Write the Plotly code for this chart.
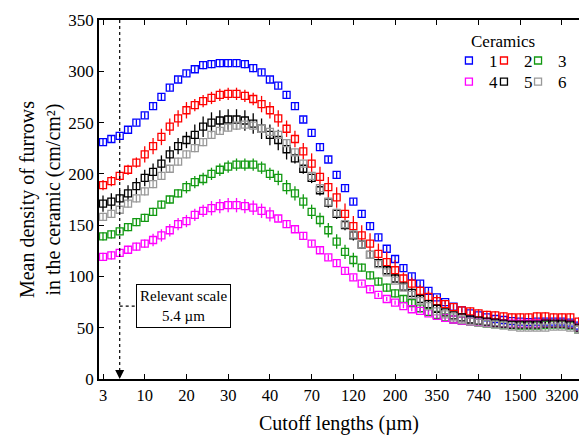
"""
Mean furrow density in six ceramics as a function of the cutoff length,
with the relevant scale (5.4 um) marked.
"""

import plotly.graph_objects as go

# cutoff lengths are plotted on an index scale, labelled every 5th point
n_cutoffs = 58
tick_index = [0, 5, 10, 15, 20, 25, 30, 35, 40, 45, 50, 55]
tick_labels = ["3", "10", "20", "30", "40", "70", "120", "200", "350", "740", "1500", "3200"]
relevant_index = 2  # 5.4 um

ceramic_names = ["1", "2", "3", "4", "5", "6"]
ceramic_colors = ["#0000ff", "#ff0000", "#119911", "#ff00ff", "#000000", "#999999"]

density_1 = [231, 234, 237, 243, 250, 257, 266, 275, 284, 292,
             298, 302, 306, 307, 308, 308, 308, 307, 303, 299,
             292, 286, 277, 266, 253, 240, 226, 214, 199, 186,
             173, 161, 149, 138, 127, 117, 108, 100, 93, 86,
             79.5, 75, 70.5, 67, 64, 62, 60, 58.5, 57.5, 56.5,
             56, 55.5, 56, 56, 56, 56, 55, 52]
density_2 = [189, 193, 198, 204, 211, 219, 227, 236, 246, 254,
             262, 267, 271, 274, 277, 278, 278, 276, 273, 268,
             262, 254, 244, 234, 222, 210, 197, 187, 177, 161,
             149, 140, 132, 122, 114, 106, 98, 93, 86, 80,
             76, 73, 70, 67, 66, 64, 62.5, 62, 61, 60,
             60, 60, 61, 61, 60, 60, 60, 56]
density_3 = [139, 141, 144, 148, 153, 157, 163, 170, 175, 181,
             187, 192, 195, 200, 204, 207, 209, 209, 209, 206,
             200, 196, 187, 181, 173, 163, 155, 145, 134, 124,
             116, 108.5, 101, 95, 89, 83.5, 78, 74, 69, 65.5,
             62.5, 60, 58, 57, 56, 55, 54, 53.5, 53, 52.5,
             52, 52, 52, 52.5, 53, 53, 52, 48]
density_4 = [119, 120.5, 123, 126, 129, 132, 135.5, 140, 145, 151,
             154, 160, 164, 166.5, 168.5, 169.5, 169.5, 168.5, 167, 164,
             160.5, 156.5, 151, 146, 139.5, 132, 125.5, 118.5, 113, 105.5,
             99, 93, 87.5, 82, 78, 74.5, 71, 68, 66.5, 64,
             61.5, 59.5, 58, 57, 56, 55.5, 55, 54.5, 54, 54,
             54, 54, 54, 54, 54, 54, 53, 50]
density_5 = [171, 173, 176, 181, 188, 196, 202, 210, 219, 227,
             233, 238, 246, 250, 252, 253, 253, 252, 249, 244,
             238, 233, 224, 215, 205, 196, 184, 172, 161, 150,
             140, 131, 121, 113, 106, 98, 90, 84, 78, 73,
             68.5, 65, 62, 60, 58, 57, 56, 55, 54, 53,
             53, 53, 53, 54, 54, 54, 53, 50]
density_6 = [158, 161, 165, 171, 176, 183, 190, 198, 205, 212,
             219, 225, 231, 238, 242, 245, 247, 248, 247, 244,
             241, 238, 230, 221, 210, 198, 186, 173, 162, 151,
             141, 131, 121, 112, 104, 96, 89, 82, 76, 71,
             66, 63, 60, 58, 56, 55, 54, 53, 52, 51,
             50, 50, 50, 50, 51, 51, 50, 48]

error_1 = [3, 3, 3, 3, 3, 3, 3, 3, 3, 3,
           3, 3, 4, 4, 4, 4, 4, 4, 4, 3,
           3, 3, 3, 3, 3, 3, 3, 3, 3, 3,
           3, 3, 3, 3, 3, 3, 3, 3, 3, 3,
           2, 2, 2, 2, 2, 2, 2, 2, 2, 2,
           2, 2, 2, 2, 2, 2, 2, 2]
error_2 = [5, 5, 5, 5, 5, 8, 8, 8, 8, 8,
           8, 6, 6, 6, 6, 6, 6, 6, 6, 8,
           8, 8, 8, 8, 8, 10, 10, 10, 10, 10,
           10, 10, 10, 10, 10, 10, 6, 6, 6, 6,
           6, 4, 4, 4, 4, 4, 4, 4, 4, 4,
           4, 4, 4, 4, 4, 4, 4, 4]
error_3 = [4, 4, 4, 4, 4, 4, 4, 4, 4, 4,
           6, 6, 6, 6, 6, 6, 6, 6, 6, 6,
           6, 7, 7, 7, 7, 7, 7, 7, 7, 7,
           7, 4, 4, 4, 4, 4, 4, 4, 4, 4,
           4, 2, 2, 2, 2, 2, 2, 2, 2, 2,
           2, 2, 2, 2, 2, 2, 2, 2]
error_4 = [4, 4, 4, 4, 4, 4, 6, 6, 6, 6,
           6, 6, 6, 7, 7, 7, 7, 7, 7, 7,
           7, 3, 3, 3, 3, 3, 3, 3, 3, 3,
           3, 2, 2, 2, 2, 2, 2, 2, 2, 2,
           2, 2, 2, 2, 2, 2, 2, 2, 2, 2,
           2, 2, 2, 2, 2, 2, 2, 2]
error_5 = [8, 8, 8, 8, 8, 8, 8, 8, 8, 8,
           8, 10, 10, 10, 10, 10, 10, 10, 10, 10,
           10, 10, 10, 5, 5, 5, 5, 5, 5, 5,
           5, 4, 4, 4, 4, 4, 4, 4, 4, 4,
           4, 2, 2, 2, 2, 2, 2, 2, 2, 2,
           2, 2, 2, 2, 2, 2, 2, 2]
error_6 = [4, 4, 4, 4, 4, 4, 4, 4, 4, 4,
           4, 4, 4, 4, 4, 4, 4, 4, 4, 4,
           4, 4, 4, 4, 4, 4, 4, 4, 4, 4,
           4, 3, 3, 3, 3, 3, 3, 3, 3, 3,
           3, 3, 3, 3, 3, 3, 3, 3, 3, 3,
           3, 3, 3, 3, 3, 3, 3, 3]

densities = [density_1, density_2, density_3, density_4, density_5, density_6]
errors = [error_1, error_2, error_3, error_4, error_5, error_6]

FONT = "Liberation Serif"

# one small legend per ceramic so the keys sit in a 3 x 2 grid
legend_ids = ["legend", "legend2", "legend3", "legend4", "legend5", "legend6"]
legend_x = [0.729, 0.802, 0.873, 0.729, 0.802, 0.873]
legend_y = [0.886, 0.886, 0.886, 0.827, 0.827, 0.827]

fig = go.Figure()
cutoff_index = list(range(n_cutoffs))
for i, name in enumerate(ceramic_names):
    color = ceramic_colors[i]
    fig.add_trace(go.Scatter(
        x=cutoff_index,
        y=densities[i],
        mode="markers",
        name=name,
        legend=legend_ids[i],
        showlegend=True,
        marker=dict(symbol="square-open", size=7, color=color,
                    line=dict(width=1.3, color=color)),
        error_y=dict(type="data", array=errors[i], width=0,
                     thickness=1.3, color=color),
    ))

# dashed marker line for the relevant scale, with arrow at the bottom
fig.add_shape(type="line", x0=relevant_index, x1=relevant_index, y0=350, y1=8,
              xref="x", yref="y", line=dict(color="black", width=1.2, dash="3px,3px"))
fig.add_annotation(x=relevant_index, y=0, ax=relevant_index, ay=10,
                   xref="x", yref="y", axref="x", ayref="y", text="",
                   showarrow=True, arrowhead=2, arrowsize=1.2, arrowwidth=1.5,
                   arrowcolor="black")
fig.add_shape(type="line", x0=relevant_index, x1=3.85, y0=71, y1=71,
              xref="x", yref="y", line=dict(color="black", width=1.2, dash="3px,3px"))
fig.add_annotation(x=9.62, y=71.5, xref="x", yref="y",
                   text="Relevant scale<br>5.4 µm", showarrow=False,
                   font=dict(family=FONT, size=15, color="black"),
                   bordercolor="black", borderwidth=1, borderpad=3, bgcolor="white")

fig.add_annotation(x=0.771, y=0.9415, xref="paper", yref="paper",
                   xanchor="left", yanchor="middle", text="Ceramics",
                   showarrow=False, font=dict(family=FONT, size=17, color="black"))

axis_common = dict(showline=True, linecolor="black", linewidth=1.5,
                   ticks="inside", ticklen=5, tickcolor="black",
                   showgrid=False, zeroline=False, tickangle=0)

legends = {}
for i, lid in enumerate(legend_ids):
    legends[lid] = dict(x=legend_x[i], y=legend_y[i], xanchor="left", yanchor="middle",
                        bgcolor="rgba(0,0,0,0)", itemwidth=30,
                        font=dict(family=FONT, size=17, color="black"))

fig.update_layout(
    width=579, height=437,
    margin=dict(l=99, r=0, t=20, b=58),
    showlegend=True,
    plot_bgcolor="white", paper_bgcolor="white",
    font=dict(family=FONT, size=17, color="black"),
    xaxis=dict(range=[-0.48, 57.04], tickmode="array", tickvals=tick_index,
               ticktext=tick_labels, mirror="ticks",
               tickfont=dict(family=FONT, size=16.5, color="black"),
               title=dict(text="Cutoff lengths (µm)", font=dict(size=20), standoff=12),
               **axis_common),
    yaxis=dict(range=[0, 350], dtick=50,
               tickfont=dict(family=FONT, size=17, color="black"),
               title=dict(text="Mean density of furrows<br>in the ceramic (cm/cm²)",
                          font=dict(size=20), standoff=2),
               **axis_common),
    **legends,
)

# drop the default page margin so the figure fills the window exactly
fig.write_html("out.html",
               config={"displayModeBar": False},
               post_script="document.body.style.margin='0';"
                           "document.body.style.overflow='hidden';")
